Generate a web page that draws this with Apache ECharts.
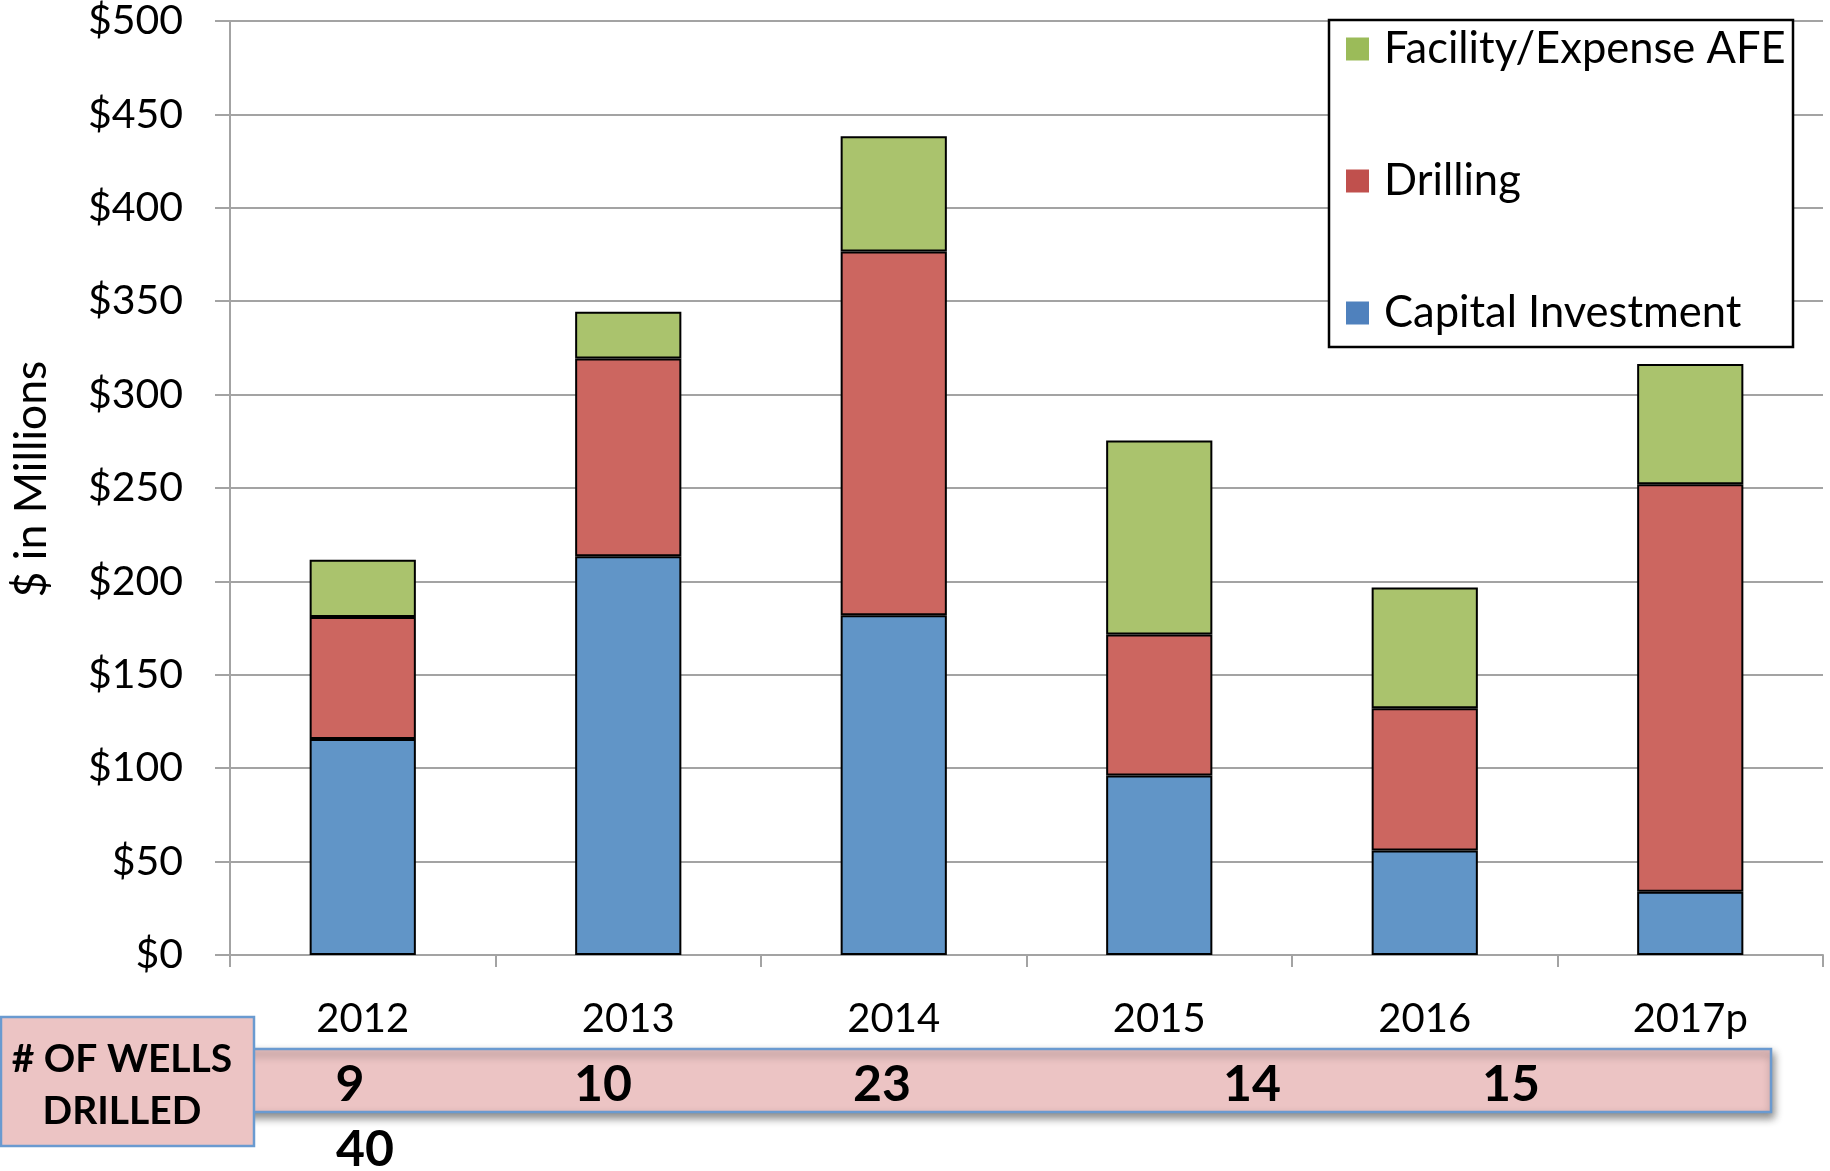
<!DOCTYPE html>
<html>
<head>
<meta charset="utf-8">
<script src="https://cdn.jsdelivr.net/npm/echarts@6/dist/echarts.min.js"></script>
<style>
html,body{margin:0;padding:0;background:#fff;}
#chart{width:1830px;height:1171px;}
</style>
</head>
<body>
<div id="chart"></div>
<script>
// ---- data ----
const categories = ['2012', '2013', '2014', '2015', '2016', '2017p'];
const capitalInvestment = [115.6, 213.5, 181.9, 96.1, 56.0, 33.9];
const drilling = [65.4, 105.8, 194.7, 75.5, 76.1, 218.1];
const facilityExpense = [30.6, 25.1, 61.7, 103.8, 64.6, 64.4];
const seriesNames = ['Capital Investment', 'Drilling', 'Facility/Expense AFE'];
const yMin = 0, yMax = 500, yStep = 50;
const wellsTitle = ['# OF WELLS', 'DRILLED'];
const wellsRow = ['9', '10', '23', '14', '15'];
const wellsExtra = ['40'];

// ---- styles ----
const FONT = 'Lato, "Noto Sans", sans-serif';
const C_BLUE = '#6195c7', C_RED = '#cc6660', C_GREEN = '#aac36d';
const L_BLUE = '#4f81bd', L_RED = '#c0504d', L_GREEN = '#9bbb59';
const GRID_C = '#a3a3a3';
const PINK = '#ecc4c4', PINK_BORDER = '#6a9ad0';

const chart = echarts.init(document.getElementById('chart'), null, {renderer: 'canvas'});

const barStyle = (c) => ({color: c, borderColor: '#000', borderWidth: 2});

const wellsX = [350, 603, 882, 1252, 1511];
const graphics = [
  // legend frame
  {type: 'rect', z: 3, shape: {x: 1329, y: 20, width: 464, height: 327},
   style: {fill: '#fff', stroke: '#000', lineWidth: 2.5}},
  // wells row
  {type: 'rect', z: 5, shape: {x: 240, y: 1049, width: 1531, height: 63},
   style: {fill: PINK, stroke: PINK_BORDER, lineWidth: 2.5,
            shadowBlur: 8, shadowOffsetY: 5, shadowOffsetX: 2, shadowColor: 'rgba(0,0,0,0.45)'}},
  // wells title box
  {type: 'rect', z: 6, shape: {x: 1, y: 1017, width: 253, height: 129},
   style: {fill: PINK, stroke: PINK_BORDER, lineWidth: 2.5}},
  {type: 'text', z: 7, x: 122, y: 1059,
   style: {text: wellsTitle[0], font: 'bold 39px ' + FONT, fill: '#000', textAlign: 'center', textVerticalAlign: 'middle'}},
  {type: 'text', z: 7, x: 122, y: 1111,
   style: {text: wellsTitle[1], font: 'bold 39px ' + FONT, fill: '#000', textAlign: 'center', textVerticalAlign: 'middle'}},
  {type: 'text', z: 7, x: 365, y: 1150,
   style: {text: wellsExtra[0], font: 'bold 50px ' + FONT, fill: '#000', textAlign: 'center', textVerticalAlign: 'middle'}}
];
wellsRow.forEach((t, i) => {
  graphics.push({type: 'text', z: 7, x: wellsX[i], y: 1085,
    style: {text: t, font: 'bold 50px ' + FONT, fill: '#000', textAlign: 'center', textVerticalAlign: 'middle'}});
});

const option = {
  animation: false,
  backgroundColor: '#fff',
  textStyle: {fontFamily: FONT},
  grid: {left: 230, right: 7, top: 21, bottom: 216, containLabel: false, outerBoundsMode: 'none'},
  legend: {
    orient: 'vertical', left: 1346, top: 21, z: 4,
    itemWidth: 23, itemHeight: 23, itemGap: 76, icon: 'rect',
    padding: 0,
    textStyle: {fontFamily: FONT, fontSize: 43.5, color: '#000', lineHeight: 56, padding: [0, 0, 0, 10]},
    data: [
      {name: seriesNames[2], itemStyle: {color: L_GREEN, borderWidth: 0}},
      {name: seriesNames[1], itemStyle: {color: L_RED, borderWidth: 0}},
      {name: seriesNames[0], itemStyle: {color: L_BLUE, borderWidth: 0}}
    ]
  },
  xAxis: {
    type: 'category', data: categories, boundaryGap: true,
    axisLine: {show: true, lineStyle: {color: GRID_C, width: 2}},
    axisTick: {show: true, length: 12, lineStyle: {color: GRID_C, width: 2}},
    axisLabel: {color: '#000', fontSize: 40, fontFamily: FONT, margin: 40, lineHeight: 48},
    splitLine: {show: false}
  },
  yAxis: {
    type: 'value', min: yMin, max: yMax, interval: yStep,
    name: '$ in Millions', nameLocation: 'middle', nameGap: 176, nameRotate: 90,
    nameTextStyle: {color: '#000', fontSize: 44.5, fontFamily: FONT, padding: [0, 0, 0, 18]},
    axisLine: {show: true, lineStyle: {color: GRID_C, width: 2}},
    axisTick: {show: true, length: 15, lineStyle: {color: GRID_C, width: 2}},
    axisLabel: {color: '#000', fontSize: 41, fontFamily: FONT, margin: 47, formatter: (v) => '$' + v},
    splitLine: {show: true, lineStyle: {color: GRID_C, width: 2}}
  },
  series: [
    {name: seriesNames[0], type: 'bar', stack: 'total', barWidth: '40%', data: capitalInvestment, itemStyle: barStyle(C_BLUE)},
    {name: seriesNames[1], type: 'bar', stack: 'total', barWidth: '40%', data: drilling, itemStyle: barStyle(C_RED)},
    {name: seriesNames[2], type: 'bar', stack: 'total', barWidth: '40%', data: facilityExpense, itemStyle: barStyle(C_GREEN)}
  ],
  graphic: graphics
};
chart.setOption(option);
</script>
</body>
</html>
